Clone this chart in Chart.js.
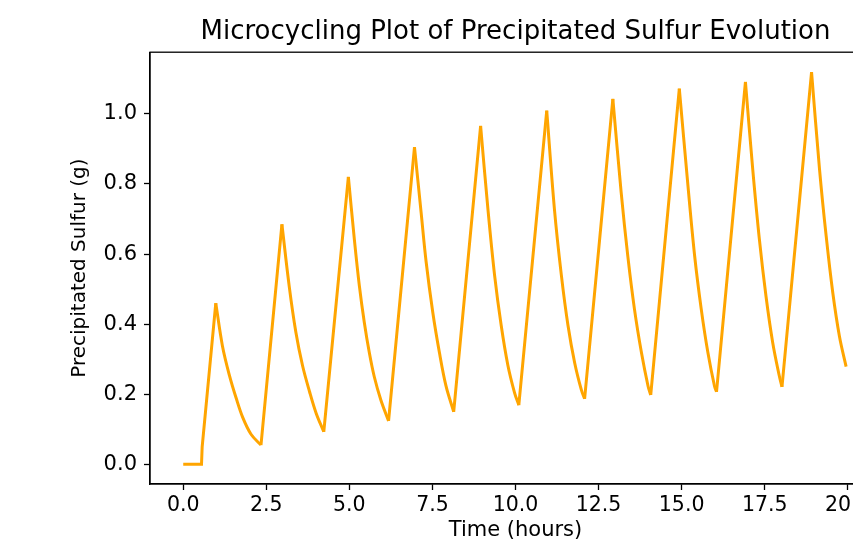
<!DOCTYPE html>
<html>
<head>
<meta charset="utf-8">
<script src="https://cdn.jsdelivr.net/npm/chart.js@4.4.1/dist/chart.umd.min.js"></script>
<style>
  html, body { margin: 0; padding: 0; background: #fff; overflow: hidden; }
  #wrap { width: 900px; height: 540px; }
</style>
</head>
<body>
<div id="wrap"><canvas id="chart" width="900" height="540"></canvas></div>
<script>
// time (hours) and precipitated sulfur (g)
const timeHours = [
  0, 0.55, 0.57, 0.98,
  1.18, 1.39, 1.59, 1.79, 2.04, 2.34,
  2.97, 3.19, 3.39, 3.59, 3.80, 4.00, 4.23,
  4.97, 5.15, 5.30, 5.45, 5.60, 5.75, 5.95, 6.18,
  6.96, 7.16, 7.31, 7.51, 7.71, 7.91, 8.14,
  8.95, 9.17, 9.37, 9.57, 9.77, 9.97, 10.10,
  10.94, 11.17, 11.38, 11.58, 11.78, 11.98, 12.08,
  12.93, 13.18, 13.38, 13.58, 13.79, 13.99, 14.07,
  14.93, 15.19, 15.39, 15.59, 15.79, 15.99, 16.05,
  16.92, 17.14, 17.34, 17.54, 17.74, 17.94, 18.02,
  18.91, 19.15, 19.35, 19.55, 19.75, 19.95
];
const sulfur = [
  0, 0, 0.05, 0.46,
  0.338, 0.254, 0.19, 0.134, 0.086, 0.055,
  0.685, 0.508, 0.377, 0.282, 0.208, 0.146, 0.093,
  0.82, 0.642, 0.51, 0.405, 0.319, 0.25, 0.183, 0.124,
  0.905, 0.718, 0.578, 0.434, 0.319, 0.223, 0.15,
  0.966, 0.728, 0.54, 0.396, 0.283, 0.205, 0.169,
  1.009, 0.73, 0.54, 0.396, 0.29, 0.213, 0.187,
  1.043, 0.776, 0.594, 0.443, 0.319, 0.223, 0.198,
  1.072, 0.795, 0.596, 0.443, 0.319, 0.223, 0.207,
  1.091, 0.842, 0.642, 0.479, 0.348, 0.252, 0.221,
  1.119, 0.842, 0.651, 0.489, 0.365, 0.279
];
const xTicks = [0, 2.5, 5, 7.5, 10, 12.5, 15, 17.5, 20];
const yTicks = [0, 0.2, 0.4, 0.6, 0.8, 1.0];

Chart.defaults.color = '#000';
Chart.defaults.font.family = 'DejaVu Sans';

// split into straight rises and curved decays, gaps between runs
const rise = [], decay = [];
for (let i = 0; i < timeHours.length - 1; i++) {
  const a = { x: timeHours[i], y: sulfur[i] }, b = { x: timeHours[i + 1], y: sulfur[i + 1] };
  const target = b.y < a.y ? decay : rise;
  const last = target[target.length - 1];
  if (!last || last.x !== a.x || last.y !== a.y) {
    if (target.length) target.push({ x: a.x, y: null });
    target.push(a);
  }
  target.push(b);
}

// top spine like matplotlib
const frame = {
  id: 'frame',
  afterDraw(chart) {
    const a = chart.chartArea, c = chart.ctx;
    c.save();
    c.strokeStyle = '#000';
    c.lineWidth = 1.3;
    c.strokeRect(a.left, a.top, a.right - a.left, a.bottom - a.top);
    c.restore();
  }
};

const lineStyle = { borderColor: '#FFA500', borderWidth: 3, pointRadius: 0, fill: false, spanGaps: false };

new Chart(document.getElementById('chart'), {
  type: 'line',
  data: {
    datasets: [
      Object.assign({ data: rise, tension: 0 }, lineStyle),
      Object.assign({ data: decay, tension: 0.35 }, lineStyle)
    ]
  },
  options: {
    responsive: false,
    animation: false,
    layout: { padding: { left: 58, top: 0, right: 19, bottom: 0 } },
    plugins: {
      legend: { display: false },
      tooltip: { enabled: false },
      title: {
        display: true,
        fullSize: false,
        text: 'Microcycling Plot of Precipitated Sulfur Evolution',
        font: { size: 26, weight: 'normal' },
        padding: { top: 17, bottom: 4 }
      }
    },
    scales: {
      x: {
        type: 'linear',
        min: -1,
        max: 21,
        afterBuildTicks: s => { s.ticks = xTicks.map(v => ({ value: v })); },
        afterFit: s => { s.height = 56; },
        grid: { drawOnChartArea: false, tickLength: 6, tickColor: '#000', tickWidth: 1.3 },
        border: { color: '#000', width: 1.3 },
        ticks: { font: { size: 20.5 }, padding: 3, maxRotation: 0, callback: v => v.toFixed(1) },
        title: { display: true, text: 'Time (hours)', font: { size: 21 }, padding: { top: 0, bottom: -3 } }
      },
      y: {
        min: -0.056,
        max: 1.176,
        afterBuildTicks: s => { s.ticks = yTicks.map(v => ({ value: v })); },
        afterFit: s => { s.width = 92; },
        grid: { drawOnChartArea: false, tickLength: 6, tickColor: '#000', tickWidth: 1.3 },
        border: { color: '#000', width: 1.3 },
        ticks: { font: { size: 21 }, padding: 7, callback: v => v.toFixed(1) },
        title: { display: true, text: 'Precipitated Sulfur (g)', font: { size: 20 }, padding: { top: 10, bottom: 0 } }
      }
    }
  },
  plugins: [frame]
});
</script>
</body>
</html>
